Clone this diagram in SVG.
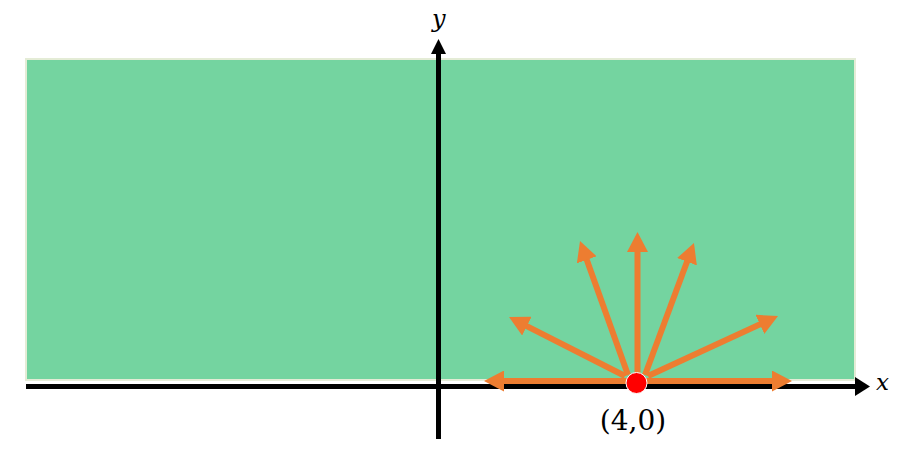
<svg xmlns="http://www.w3.org/2000/svg" width="919" height="460" viewBox="0 0 919 460">
<style>
.ray{stroke:#ed7d31;stroke-width:6;fill:none;marker-end:url(#oh)}
.axis{stroke:#000;stroke-width:5;fill:none}
.lbl{font-family:"DejaVu Serif","Liberation Serif",serif;fill:#000}
</style>
<defs>
<marker id="oh" markerUnits="userSpaceOnUse" markerWidth="21" markerHeight="21" refX="4" refY="10.5" orient="auto" viewBox="0 0 21 21">
<path d="M0,0 L20,10.5 L0,21 z" fill="#ed7d31"/>
</marker>
</defs>
<g id="region">
<rect x="26" y="59" width="829" height="321" fill="#74d4a0" stroke="#e4ecd6" stroke-width="2"/>
</g>
<g id="axes">
<line class="axis" x1="26" y1="386.5" x2="856" y2="386.5"/>
<path d="M855,377 L870,386.5 L855,396 z" fill="#000"/>
<line class="axis" x1="438.5" y1="439" x2="438.5" y2="53"/>
<path d="M431,54 L438.5,39 L446,54 z" fill="#000"/>
<text class="lbl" x="876" y="390" font-size="23" font-style="italic" font-family="Liberation Serif, serif">x</text>
<text class="lbl" x="432" y="27" font-size="24" font-style="italic" font-family="Liberation Serif, serif">y</text>
</g>
<g id="connectors">
<line class="ray" x1="628" y1="381" x2="500" y2="381"/>
<line class="ray" x1="645" y1="381" x2="776" y2="381"/>
<line class="ray" x1="637.5" y1="374" x2="637.5" y2="248"/>
<line class="ray" x1="628" y1="375" x2="585.4" y2="256.1"/>
<line class="ray" x1="645" y1="375" x2="688.4" y2="258"/>
<line class="ray" x1="625" y1="376" x2="523.3" y2="324.3"/>
<line class="ray" x1="648" y1="376" x2="763.5" y2="322.7"/>
</g>
<g id="point">
<circle cx="636.5" cy="383" r="10.5" fill="#ff0000" stroke="#ffffff" stroke-width="1"/>
<text class="lbl" x="633" y="430" font-size="28" text-anchor="middle">(4,0)</text>
</g>
</svg>
